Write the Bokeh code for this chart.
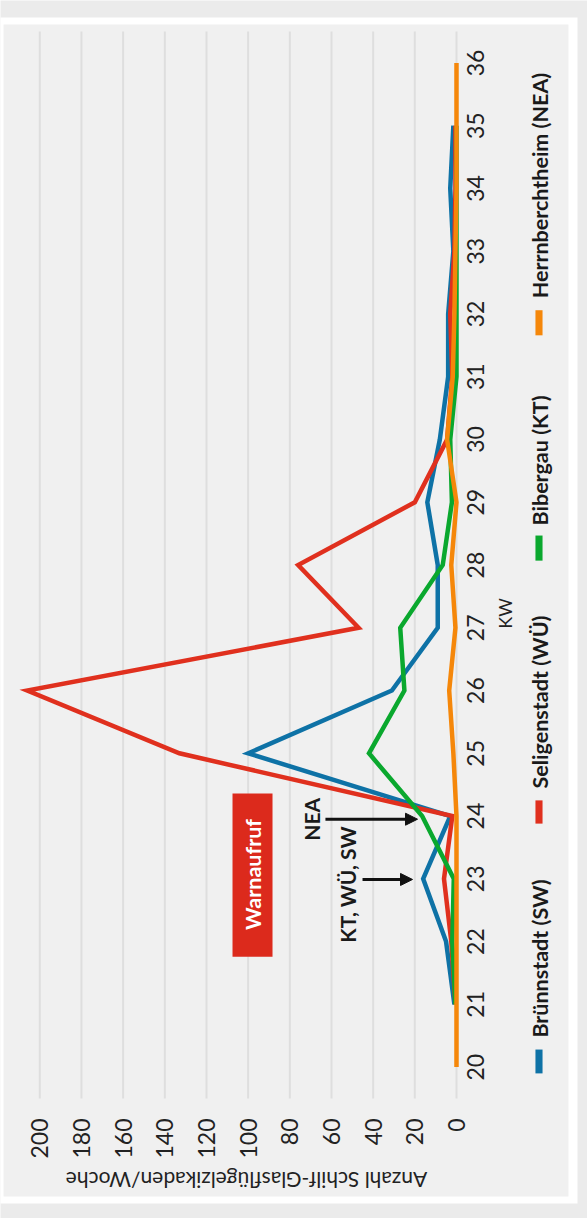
from math import pi
from bokeh.plotting import figure
from bokeh.models import Range1d, FixedTicker, Label, BoxAnnotation, Arrow, NormalHead, LinearAxis
from bokeh.embed import file_html
from bokeh.resources import INLINE

nan = float("nan")

# ---- data ----
kw = list(range(20, 37))
kw_ticks = list(range(20, 37))
value_ticks = list(range(0, 201, 20))

series_names = ["Brünnstadt (SW)", "Seligenstadt (WÜ)", "Bibergau (KT)", "Herrnberchtheim (NEA)"]
bruennstadt = [nan, 1, 5, 16, 3, 100, 31, 9, 9, 14, 8, 4, 4, 1.5, 3, 1.5, nan]
seligenstadt = [nan, 0.5, 2.5, 6, 2, 133, 206, 47, 76, 20, 4.5, 2, 3, 1, 0.5, 0.5, nan]
bibergau = [nan, 0.5, 2, 1.3, 16.5, 42, 25, 27, 6.6, 2.2, 3, 0, 0, 0, 0, 0, nan]
herrnberchtheim = [0, 0, 0, 0, 0, 1.5, 3.5, 0.5, 2.5, 0, 4.5, 1.8, 1, 0.5, 0, 0, 0]

colors = ["#0e72a6", "#e0301e", "#0aa82e", "#f5870a"]

x_title = "Anzahl Schilf-Glasflügelzikaden/Woche"
y_title = "KW"

FONT = "Lato"

KW_MIN, KW_MAX = 19.5, 36.5

p = figure(width=587, height=1218, output_backend="svg", toolbar_location=None,
           x_range=Range1d(218.86, -62.88), y_range=Range1d(17.588, 36.995),
           x_axis_location=None, y_axis_location=None,
           min_border=0,
           background_fill_color="#ebebeb", border_fill_color="#ebebeb",
           outline_line_color=None)
p.grid.visible = False

# frame / panel boxes (white border + inner grey panel)
p.add_layout(BoxAnnotation(left=230, right=-58.08, top=36.724, bottom=17.827,
                           fill_color="white", fill_alpha=1, line_color=None, level="image"))
p.add_layout(BoxAnnotation(left=217.4, right=-53.76, top=36.612, bottom=17.938,
                           fill_color="#f0f0f0", fill_alpha=1, line_color=None, level="image"))

# vertical grid lines at value ticks, spanning the category range
p.segment(x0=value_ticks, x1=value_ticks, y0=[KW_MIN] * len(value_ticks),
          y1=[KW_MAX] * len(value_ticks), line_color="#dedede", line_width=2)

# axes drawn at fixed locations
xax = LinearAxis(ticker=FixedTicker(ticks=value_ticks), fixed_location=KW_MIN)
yax = LinearAxis(ticker=FixedTicker(ticks=kw_ticks), fixed_location=-17.3)
for ax in (xax, yax):
    ax.axis_line_color = None
    ax.major_tick_line_color = None
    ax.minor_tick_line_color = None
    ax.major_label_text_font = FONT
    ax.major_label_text_font_size = "23px"
    ax.major_label_text_color = "#222222"
xax.major_label_orientation = pi / 2
yax.major_label_orientation = "parallel"
xax.major_label_standoff = 14
yax.major_label_standoff = 3
p.add_layout(xax, "below")
p.add_layout(yax, "left")

# lines (x = count, y = KW)
for ys, c in zip([bruennstadt, seligenstadt, bibergau, herrnberchtheim], colors):
    p.line(x=ys, y=kw, line_width=4.5, color=c, line_join="miter")

# axis titles
p.add_layout(Label(x=100.8, y=18.19, text=x_title, angle=pi, text_align="center",
                   text_baseline="middle", text_font=FONT, text_font_size="21px",
                   text_color="#222222"))
p.add_layout(Label(x=-23.5, y=27.23, text=y_title, angle=pi / 2, text_align="center",
                   text_baseline="middle", text_font=FONT, text_font_size="18px",
                   text_color="#222222"))

# legend
leg_start = [20.47, 24.44, 28.63, 32.25]
leg_marker = [(19.90, 20.28), (23.88, 24.25), (28.07, 28.47), (31.66, 32.06)]
for name, c, ys, (mb, mt) in zip(series_names, colors, leg_start, leg_marker):
    p.add_layout(BoxAnnotation(left=-37.9, right=-41.3, bottom=mb, top=mt,
                               fill_color=c, fill_alpha=1, line_color=None))
    p.add_layout(Label(x=-40.3, y=ys, text=name, angle=pi / 2, text_align="left",
                       text_baseline="middle", text_font=FONT, text_font_style="bold",
                       text_font_size="21.5px", text_color="#1a1a1a"))

# Warnaufruf box
p.add_layout(BoxAnnotation(left=107.5, right=88.3, top=24.36, bottom=21.76,
                           fill_color="#dc2a1c", fill_alpha=1, line_color=None))
p.add_layout(Label(x=97.9, y=23.07, text="Warnaufruf", angle=pi / 2, text_align="center",
                   text_baseline="middle", text_font=FONT, text_font_style="bold",
                   text_font_size="21.5px", text_color="white"))

# arrows
for x0, x1, yy in [(62.9, 18.7, 23.95), (45.1, 21.1, 22.99)]:
    p.add_layout(Arrow(x_start=x0, y_start=yy, x_end=x1, y_end=yy, line_width=3,
                       line_color="#111111",
                       end=NormalHead(size=12, fill_color="#111111", line_color="#111111")))
p.add_layout(Label(x=69.8, y=23.95, text="NEA", angle=pi / 2, text_align="center",
                   text_baseline="middle", text_font=FONT, text_font_style="bold",
                   text_font_size="21px", text_color="#1a1a1a"))
p.add_layout(Label(x=52.3, y=22.91, text="KT, WÜ, SW", angle=pi / 2, text_align="center",
                   text_baseline="middle", text_font=FONT, text_font_style="bold",
                   text_font_size="21px", text_color="#1a1a1a"))

open("out.html", "w").write(file_html(p, INLINE))
